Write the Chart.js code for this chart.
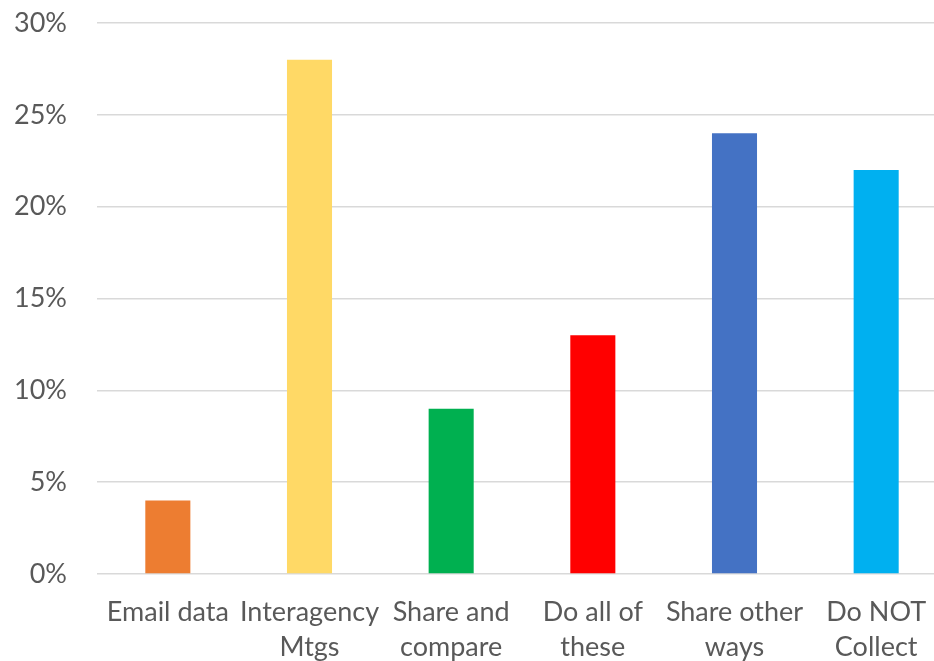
<!DOCTYPE html>
<html>
<head>
<meta charset="utf-8">
<script src="https://cdn.jsdelivr.net/npm/chart.js@4"></script>
<style>
  html, body { margin: 0; padding: 0; overflow: hidden; background: #fff; }
</style>
</head>
<body>
<canvas id="grafica" width="960" height="661"></canvas>
<script>
const categorias = [
  ['Email data'],
  ['Interagency', 'Mtgs'],
  ['Share and', 'compare'],
  ['Do all of', 'these'],
  ['Share other', 'ways'],
  ['Do NOT', 'Collect']
];
const valores = [4, 28, 9, 13, 24, 22];
const colores = ['#ED7D31', '#FFD966', '#00B050', '#FF0000', '#4472C4', '#00B0F0'];
const ticksY = [0, 5, 10, 15, 20, 25, 30];

document.addEventListener('DOMContentLoaded', function () {
  const ctx = document.getElementById('grafica').getContext('2d');
  new Chart(ctx, {
    type: 'bar',
    data: {
      labels: categorias,
      datasets: [{
        data: valores,
        backgroundColor: colores,
        categoryPercentage: 1,
        barPercentage: 0.318
      }]
    },
    options: {
      responsive: false,
      animation: false,
      layout: { padding: { top: 23, right: 13, left: 0, bottom: 0 } },
      plugins: { legend: { display: false }, tooltip: { enabled: false } },
      scales: {
        x: {
          grid: { display: false },
          border: { display: false },
          ticks: {
            color: '#595959',
            font: { family: 'Lato', size: 27, lineHeight: 1.3 },
            padding: 13,
            maxRotation: 0,
            autoSkip: false
          },
          afterFit: function (s) {
            s.height = 87;
            s.paddingLeft = 0;
            s.paddingRight = 0;
          }
        },
        y: {
          min: 0,
          max: 30,
          afterBuildTicks: function (s) { s.ticks = ticksY.map(v => ({ value: v })); },
          grid: { color: '#D9D9D9', lineWidth: 1.5, drawTicks: false },
          border: { display: false },
          ticks: {
            color: '#595959',
            font: { family: 'Lato', size: 27 },
            padding: 30,
            callback: v => v + '%'
          },
          afterFit: function (s) {
            s.width = 97;
            s.paddingTop = 0;
            s.paddingBottom = 0;
          }
        }
      }
    }
  });
});
</script>
</body>
</html>
